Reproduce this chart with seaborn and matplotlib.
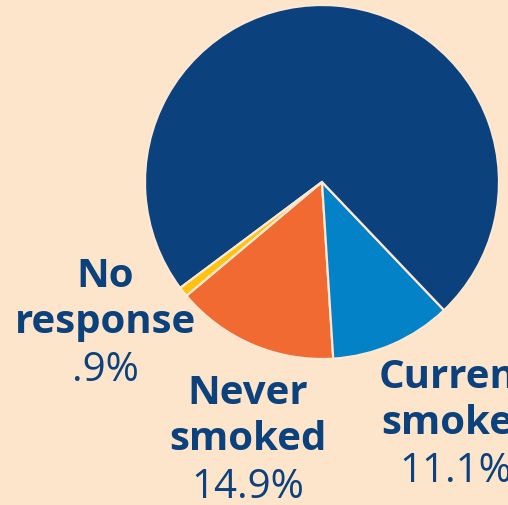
import matplotlib.pyplot as plt
import seaborn as sns

# 흡연 상태 분포 (값은 그림에서 읽음)
CATEGORIES = ['Never\nsmoked', 'Current\nsmoker', 'Former\nsmoker', 'No\nresponse']
SHARES = [14.9, 11.1, 73.1, 0.9]
PCT_LABELS = ['14.9%', '11.1%', '', '.9%']
COLORS = ['#F06A32', '#0382C8', '#0B417C', '#FFC20E']

BG = '#FDE5CB'
TEXT_BLUE = '#0B417C'

sns.set_style('white', {'axes.facecolor': BG, 'figure.facecolor': BG})
plt.rcParams['font.family'] = ['Open Sans', 'DejaVu Sans']

fig = plt.figure(figsize=(5.08, 5.05), dpi=100)
ax = fig.add_axes([0, 0, 1, 1])

ax.pie(SHARES, colors=COLORS, startangle=-140, counterclock=True,
       center=(322, 323), radius=177, frame=True,
       wedgeprops={'edgecolor': '#FDE8D2', 'linewidth': 1.6})
ax.set_xlim(0, 508)
ax.set_ylim(0, 505)
ax.set_aspect('equal')
ax.axis('off')

# 라벨 위치 (이름 중심 x, 두번째 줄 baseline y)
label_pos = {0: (248, 505 - 450), 1: (456, 505 - 434), 3: (105, 505 - 333)}
for i, (x, y) in label_pos.items():
    ax.text(x, y, CATEGORIES[i], ha='center', va='baseline', fontsize=29,
            fontweight='bold', color=TEXT_BLUE, linespacing=1.22, clip_on=False)
    ax.text(x, y - 48, PCT_LABELS[i], ha='center', va='baseline', fontsize=29,
            color=TEXT_BLUE, clip_on=False)

fig.savefig('out.png', dpi=100, facecolor=BG)
